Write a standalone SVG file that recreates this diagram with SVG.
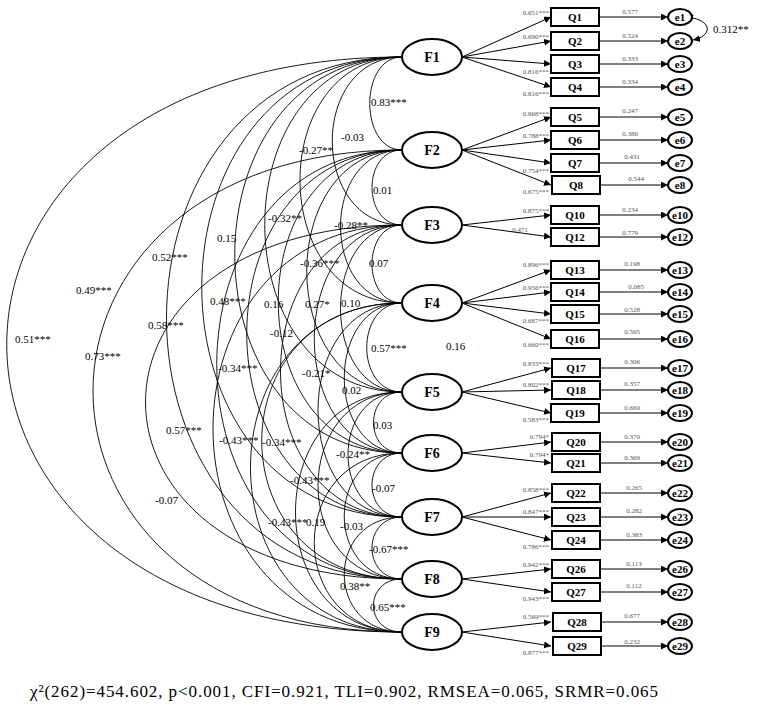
<svg xmlns="http://www.w3.org/2000/svg" width="760" height="711" viewBox="0 0 760 711">
<style>
text{font-family:"Liberation Serif","Times New Roman",serif}
.f{fill:#fff;stroke:#000;stroke-width:2}
.ft{font-size:14px;font-weight:bold;text-anchor:middle}
.q{fill:#fff;stroke:#000;stroke-width:2}
.qt{font-size:11px;font-weight:bold;text-anchor:middle}
.e{fill:#fff;stroke:#000;stroke-width:2}
.et{font-size:11px;font-weight:bold;text-anchor:middle}
.ln{stroke:#000;stroke-width:1;fill:none}
.cv{stroke:#000;stroke-width:0.9;fill:none}
.ll{font-size:7px;fill:#555;text-anchor:end}
.el{font-size:7px;fill:#555;text-anchor:middle}
.cl{font-size:11px;fill:#000}
.st{font-size:17px}
</style>
<defs>
<marker id="a" viewBox="0 0 10 10" refX="10" refY="5" markerWidth="7" markerHeight="7" markerUnits="userSpaceOnUse" orient="auto"><path d="M0,0 L10,5 L0,10 z"/></marker>
<marker id="as" viewBox="0 0 10 10" refX="0" refY="5" markerWidth="7" markerHeight="7" markerUnits="userSpaceOnUse" orient="auto-start-reverse"><path d="M0,0 L10,5 L0,10 z"/></marker>
</defs>
<rect width="760" height="711" fill="#fff"/>
<g id="connectors">
<path class="cv" d="M402,57 C359,57 359,150 402,150"/>
<path class="cv" d="M402,57 C309,57 309,225 402,225"/>
<path class="cv" d="M402,57 C266,57 266,303 402,303"/>
<path class="cv" d="M402,57 C219,57 219,392 402,392"/>
<path class="cv" d="M402,57 C179,57 179,453 402,453"/>
<path class="cv" d="M402,57 C135,57 135,517 402,517"/>
<path class="cv" d="M402,57 C88,57 88,579 402,579"/>
<path class="cv" d="M402,57 C-125,57 -125,632 402,632"/>
<path class="cv" d="M402,150 C362,150 362,225 402,225"/>
<path class="cv" d="M402,150 C320,150 320,303 402,303"/>
<path class="cv" d="M402,150 C275,150 275,392 402,392"/>
<path class="cv" d="M402,150 C237,150 237,453 402,453"/>
<path class="cv" d="M402,150 C195,150 195,517 402,517"/>
<path class="cv" d="M402,150 C155,150 155,579 402,579"/>
<path class="cv" d="M402,150 C-10,150 -10,632 402,632"/>
<path class="cv" d="M402,225 C362,225 362,303 402,303"/>
<path class="cv" d="M402,225 C320,225 320,392 402,392"/>
<path class="cv" d="M402,225 C285,225 285,453 402,453"/>
<path class="cv" d="M402,225 C240,225 240,517 402,517"/>
<path class="cv" d="M402,225 C60,225 60,579 402,579"/>
<path class="cv" d="M402,225 C150,225 150,632 402,632"/>
<path class="cv" d="M402,303 C355,303 355,392 402,392"/>
<path class="cv" d="M402,303 C325,303 325,453 402,453"/>
<path class="cv" d="M402,303 C290,303 290,517 402,517"/>
<path class="cv" d="M402,303 C215,303 215,579 402,579"/>
<path class="cv" d="M402,303 C200,303 200,632 402,632"/>
<path class="cv" d="M402,392 C364,392 364,453 402,453"/>
<path class="cv" d="M402,392 C330,392 330,517 402,517"/>
<path class="cv" d="M402,392 C290,392 290,579 402,579"/>
<path class="cv" d="M402,392 C260,392 260,632 402,632"/>
<path class="cv" d="M402,453 C362,453 362,517 402,517"/>
<path class="cv" d="M402,453 C325,453 325,579 402,579"/>
<path class="cv" d="M402,453 C285,453 285,632 402,632"/>
<path class="cv" d="M402,517 C362,517 362,579 402,579"/>
<path class="cv" d="M402,517 C325,517 325,632 402,632"/>
<path class="cv" d="M402,579 C364,579 364,632 402,632"/>
<g marker-end="url(#a)">
<path class="ln" d="M462,57 L551,17"/><path class="ln" d="M462,57 L551,41"/><path class="ln" d="M462,57 L551,64"/><path class="ln" d="M462,57 L551,87"/>
<path class="ln" d="M462,150 L551,117"/><path class="ln" d="M462,150 L551,140"/><path class="ln" d="M462,150 L551,163"/><path class="ln" d="M462,150 L551,185"/>
<path class="ln" d="M462,225 L551,215"/><path class="ln" d="M462,225 L551,237"/>
<path class="ln" d="M462,303 L551,270"/><path class="ln" d="M462,303 L551,292"/><path class="ln" d="M462,303 L551,314"/><path class="ln" d="M462,303 L551,339"/>
<path class="ln" d="M462,392 L551,368"/><path class="ln" d="M462,392 L551,390"/><path class="ln" d="M462,392 L551,413"/>
<path class="ln" d="M462,453 L551,442"/><path class="ln" d="M462,453 L551,463"/>
<path class="ln" d="M462,517 L551,493"/><path class="ln" d="M462,517 L551,517"/><path class="ln" d="M462,517 L551,540"/>
<path class="ln" d="M462,579 L551,569"/><path class="ln" d="M462,579 L551,592"/>
<path class="ln" d="M462,632 L551,622"/><path class="ln" d="M462,632 L551,646"/>
<path class="ln" d="M599,17 L668,17"/><path class="ln" d="M599,41 L668,41"/><path class="ln" d="M599,64 L668,64"/><path class="ln" d="M599,87 L668,87"/>
<path class="ln" d="M599,117 L668,117"/><path class="ln" d="M599,140 L668,140"/><path class="ln" d="M599,163 L668,163"/><path class="ln" d="M599,185 L668,185"/>
<path class="ln" d="M599,215 L668,215"/><path class="ln" d="M599,237 L668,237"/>
<path class="ln" d="M599,270 L668,270"/><path class="ln" d="M599,292 L668,292"/><path class="ln" d="M599,314 L668,314"/><path class="ln" d="M599,339 L668,339"/>
<path class="ln" d="M599,368 L668,368"/><path class="ln" d="M599,390 L668,390"/><path class="ln" d="M599,413 L668,413"/>
<path class="ln" d="M599,442 L668,442"/><path class="ln" d="M599,463 L668,463"/>
<path class="ln" d="M599,493 L668,493"/><path class="ln" d="M599,517 L668,517"/><path class="ln" d="M599,540 L668,540"/>
<path class="ln" d="M599,569 L668,569"/><path class="ln" d="M599,592 L668,592"/>
<path class="ln" d="M599,622 L668,622"/><path class="ln" d="M599,646 L668,646"/>
</g>
<path class="ln" d="M693,18 C712,22 712,36 693,40" marker-start="url(#as)" marker-end="url(#a)"/>
</g>
<g id="factors">
<g id="F1"><ellipse class="f" cx="432" cy="57" rx="30" ry="18"/><text class="ft" x="432" y="62">F1</text></g>
<g id="F2"><ellipse class="f" cx="432" cy="150" rx="30" ry="18"/><text class="ft" x="432" y="155">F2</text></g>
<g id="F3"><ellipse class="f" cx="432" cy="225" rx="30" ry="18"/><text class="ft" x="432" y="230">F3</text></g>
<g id="F4"><ellipse class="f" cx="432" cy="303" rx="30" ry="18"/><text class="ft" x="432" y="308">F4</text></g>
<g id="F5"><ellipse class="f" cx="432" cy="392" rx="30" ry="18"/><text class="ft" x="432" y="397">F5</text></g>
<g id="F6"><ellipse class="f" cx="432" cy="453" rx="30" ry="18"/><text class="ft" x="432" y="458">F6</text></g>
<g id="F7"><ellipse class="f" cx="432" cy="517" rx="30" ry="18"/><text class="ft" x="432" y="522">F7</text></g>
<g id="F8"><ellipse class="f" cx="432" cy="579" rx="30" ry="18"/><text class="ft" x="432" y="584">F8</text></g>
<g id="F9"><ellipse class="f" cx="432" cy="632" rx="30" ry="18"/><text class="ft" x="432" y="637">F9</text></g>
</g>
<g id="items">
<g id="Q1"><rect class="q" x="551" y="8" width="48" height="18"/><text class="qt" x="575" y="21">Q1</text></g>
<g id="Q2"><rect class="q" x="551" y="32" width="48" height="18"/><text class="qt" x="575" y="45">Q2</text></g>
<g id="Q3"><rect class="q" x="551" y="55" width="48" height="18"/><text class="qt" x="575" y="68">Q3</text></g>
<g id="Q4"><rect class="q" x="551" y="78" width="48" height="18"/><text class="qt" x="575" y="91">Q4</text></g>
<g id="Q5"><rect class="q" x="551" y="108" width="48" height="18"/><text class="qt" x="575" y="121">Q5</text></g>
<g id="Q6"><rect class="q" x="551" y="131" width="48" height="18"/><text class="qt" x="575" y="144">Q6</text></g>
<g id="Q7"><rect class="q" x="551" y="154" width="48" height="18"/><text class="qt" x="575" y="167">Q7</text></g>
<g id="Q8"><rect class="q" x="552" y="176" width="48" height="18"/><text class="qt" x="576" y="189">Q8</text></g>
<g id="Q10"><rect class="q" x="551" y="206" width="48" height="18"/><text class="qt" x="575" y="219">Q10</text></g>
<g id="Q12"><rect class="q" x="551" y="228" width="48" height="18"/><text class="qt" x="575" y="241">Q12</text></g>
<g id="Q13"><rect class="q" x="551" y="261" width="48" height="18"/><text class="qt" x="575" y="274">Q13</text></g>
<g id="Q14"><rect class="q" x="551" y="283" width="48" height="18"/><text class="qt" x="575" y="296">Q14</text></g>
<g id="Q15"><rect class="q" x="551" y="305" width="48" height="18"/><text class="qt" x="575" y="318">Q15</text></g>
<g id="Q16"><rect class="q" x="551" y="330" width="48" height="18"/><text class="qt" x="575" y="343">Q16</text></g>
<g id="Q17"><rect class="q" x="552" y="359" width="48" height="18"/><text class="qt" x="576" y="372">Q17</text></g>
<g id="Q18"><rect class="q" x="552" y="381" width="48" height="18"/><text class="qt" x="576" y="394">Q18</text></g>
<g id="Q19"><rect class="q" x="551" y="404" width="48" height="18"/><text class="qt" x="575" y="417">Q19</text></g>
<g id="Q20"><rect class="q" x="552" y="433" width="48" height="18"/><text class="qt" x="576" y="446">Q20</text></g>
<g id="Q21"><rect class="q" x="552" y="454" width="48" height="18"/><text class="qt" x="576" y="467">Q21</text></g>
<g id="Q22"><rect class="q" x="552" y="484" width="48" height="18"/><text class="qt" x="576" y="497">Q22</text></g>
<g id="Q23"><rect class="q" x="552" y="508" width="48" height="18"/><text class="qt" x="576" y="521">Q23</text></g>
<g id="Q24"><rect class="q" x="552" y="531" width="48" height="18"/><text class="qt" x="576" y="544">Q24</text></g>
<g id="Q26"><rect class="q" x="552" y="560" width="48" height="18"/><text class="qt" x="576" y="573">Q26</text></g>
<g id="Q27"><rect class="q" x="552" y="583" width="48" height="18"/><text class="qt" x="576" y="596">Q27</text></g>
<g id="Q28"><rect class="q" x="553" y="613" width="48" height="18"/><text class="qt" x="577" y="626">Q28</text></g>
<g id="Q29"><rect class="q" x="553" y="637" width="48" height="18"/><text class="qt" x="577" y="650">Q29</text></g>
</g>
<g id="errors">
<g id="e1"><ellipse class="e" cx="680" cy="17" rx="12" ry="8"/><text class="et" x="680" y="21">e1</text></g>
<g id="e2"><ellipse class="e" cx="680" cy="41" rx="12" ry="8"/><text class="et" x="680" y="45">e2</text></g>
<g id="e3"><ellipse class="e" cx="680" cy="64" rx="12" ry="8"/><text class="et" x="680" y="68">e3</text></g>
<g id="e4"><ellipse class="e" cx="680" cy="87" rx="12" ry="8"/><text class="et" x="680" y="91">e4</text></g>
<g id="e5"><ellipse class="e" cx="680" cy="117" rx="12" ry="8"/><text class="et" x="680" y="121">e5</text></g>
<g id="e6"><ellipse class="e" cx="680" cy="140" rx="12" ry="8"/><text class="et" x="680" y="144">e6</text></g>
<g id="e7"><ellipse class="e" cx="680" cy="163" rx="12" ry="8"/><text class="et" x="680" y="167">e7</text></g>
<g id="e8"><ellipse class="e" cx="680" cy="185" rx="12" ry="8"/><text class="et" x="680" y="189">e8</text></g>
<g id="e10"><ellipse class="e" cx="680" cy="215" rx="12" ry="8"/><text class="et" x="680" y="219">e10</text></g>
<g id="e12"><ellipse class="e" cx="680" cy="237" rx="12" ry="8"/><text class="et" x="680" y="241">e12</text></g>
<g id="e13"><ellipse class="e" cx="680" cy="270" rx="12" ry="8"/><text class="et" x="680" y="274">e13</text></g>
<g id="e14"><ellipse class="e" cx="680" cy="292" rx="12" ry="8"/><text class="et" x="680" y="296">e14</text></g>
<g id="e15"><ellipse class="e" cx="680" cy="314" rx="12" ry="8"/><text class="et" x="680" y="318">e15</text></g>
<g id="e16"><ellipse class="e" cx="680" cy="339" rx="12" ry="8"/><text class="et" x="680" y="343">e16</text></g>
<g id="e17"><ellipse class="e" cx="680" cy="368" rx="12" ry="8"/><text class="et" x="680" y="372">e17</text></g>
<g id="e18"><ellipse class="e" cx="680" cy="390" rx="12" ry="8"/><text class="et" x="680" y="394">e18</text></g>
<g id="e19"><ellipse class="e" cx="680" cy="413" rx="12" ry="8"/><text class="et" x="680" y="417">e19</text></g>
<g id="e20"><ellipse class="e" cx="680" cy="442" rx="12" ry="8"/><text class="et" x="680" y="446">e20</text></g>
<g id="e21"><ellipse class="e" cx="680" cy="463" rx="12" ry="8"/><text class="et" x="680" y="467">e21</text></g>
<g id="e22"><ellipse class="e" cx="680" cy="493" rx="12" ry="8"/><text class="et" x="680" y="497">e22</text></g>
<g id="e23"><ellipse class="e" cx="680" cy="517" rx="12" ry="8"/><text class="et" x="680" y="521">e23</text></g>
<g id="e24"><ellipse class="e" cx="680" cy="540" rx="12" ry="8"/><text class="et" x="680" y="544">e24</text></g>
<g id="e26"><ellipse class="e" cx="680" cy="569" rx="12" ry="8"/><text class="et" x="680" y="573">e26</text></g>
<g id="e27"><ellipse class="e" cx="680" cy="592" rx="12" ry="8"/><text class="et" x="680" y="596">e27</text></g>
<g id="e28"><ellipse class="e" cx="680" cy="622" rx="12" ry="8"/><text class="et" x="680" y="626">e28</text></g>
<g id="e29"><ellipse class="e" cx="680" cy="646" rx="12" ry="8"/><text class="et" x="680" y="650">e29</text></g>
</g>
<g id="loading-labels">
<text class="ll" x="549" y="15">0.651***</text><text class="ll" x="549" y="39">0.690***</text><text class="ll" x="549" y="74">0.816***</text><text class="ll" x="549" y="96">0.816***</text>
<text class="ll" x="549" y="116">0.868***</text><text class="ll" x="549" y="138">0.788***</text><text class="ll" x="549" y="173">0.754***</text><text class="ll" x="549" y="194">0.675***</text>
<text class="ll" x="549" y="213">0.875***</text><text class="ll" x="528" y="232">0.471</text>
<text class="ll" x="549" y="267">0.896***</text><text class="ll" x="549" y="290">0.956***</text><text class="ll" x="549" y="323">0.687***</text><text class="ll" x="549" y="347">0.660***</text>
<text class="ll" x="549" y="366">0.833***</text><text class="ll" x="549" y="387">0.802***</text><text class="ll" x="549" y="422">0.583***</text>
<text class="ll" x="549" y="439">0.794*</text><text class="ll" x="549" y="457">0.794*</text>
<text class="ll" x="549" y="492">0.858***</text><text class="ll" x="549" y="514">0.847***</text><text class="ll" x="549" y="549">0.786***</text>
<text class="ll" x="549" y="567">0.942***</text><text class="ll" x="549" y="601">0.943***</text>
<text class="ll" x="549" y="619">0.569***</text><text class="ll" x="549" y="655">0.877***</text>
</g>
<g id="error-labels">
<text class="el" x="630" y="14">0.577</text><text class="el" x="630" y="38">0.524</text><text class="el" x="630" y="61">0.333</text><text class="el" x="630" y="84">0.334</text>
<text class="el" x="630" y="113">0.247</text><text class="el" x="630" y="136">0.380</text><text class="el" x="632" y="159">0.431</text><text class="el" x="636" y="181">0.544</text>
<text class="el" x="630" y="212">0.234</text><text class="el" x="630" y="235">0.779</text>
<text class="el" x="632" y="266">0.198</text><text class="el" x="636" y="289">0.085</text><text class="el" x="632" y="312">0.528</text><text class="el" x="632" y="334">0.565</text>
<text class="el" x="632" y="364">0.306</text><text class="el" x="632" y="386">0.357</text><text class="el" x="632" y="410">0.660</text>
<text class="el" x="632" y="439">0.370</text><text class="el" x="632" y="460">0.369</text>
<text class="el" x="634" y="490">0.265</text><text class="el" x="634" y="513">0.282</text><text class="el" x="634" y="537">0.383</text>
<text class="el" x="634" y="566">0.113</text><text class="el" x="634" y="588">0.112</text>
<text class="el" x="632" y="618">0.677</text><text class="el" x="632" y="644">0.232</text>
<text class="cl" x="713" y="33" font-size="10">0.312**</text>
</g>
<g id="correlation-labels">
<text class="cl" x="371" y="106">0.83***</text>
<text class="cl" x="341" y="141">-0.03</text>
<text class="cl" x="299" y="154">-0.27**</text>
<text class="cl" x="373" y="194">0.01</text>
<text class="cl" x="334" y="229">-0.28**</text>
<text class="cl" x="268" y="222">-0.32**</text>
<text class="cl" x="300" y="267">-0.36***</text>
<text class="cl" x="369" y="267">0.07</text>
<text class="cl" x="217" y="242">0.15</text>
<text class="cl" x="152" y="261">0.52***</text>
<text class="cl" x="76" y="294">0.49***</text>
<text class="cl" x="15" y="343">0.51***</text>
<text class="cl" x="85" y="360">0.73***</text>
<text class="cl" x="148" y="329">0.58***</text>
<text class="cl" x="210" y="305">0.48***</text>
<text class="cl" x="264" y="308">0.16</text>
<text class="cl" x="305" y="308">0.27*</text>
<text class="cl" x="341" y="307">0.10</text>
<text class="cl" x="371" y="352">0.57***</text>
<text class="cl" x="446" y="350">0.16</text>
<text class="cl" x="270" y="337">-0.12</text>
<text class="cl" x="218" y="372">-0.34***</text>
<text class="cl" x="302" y="377">-0.21*</text>
<text class="cl" x="342" y="394">0.02</text>
<text class="cl" x="373" y="429">0.03</text>
<text class="cl" x="336" y="458">-0.24**</text>
<text class="cl" x="166" y="434">0.57***</text>
<text class="cl" x="219" y="444">-0.43***</text>
<text class="cl" x="262" y="446">-0.34***</text>
<text class="cl" x="155" y="504">-0.07</text>
<text class="cl" x="290" y="484">-0.43***</text>
<text class="cl" x="372" y="492">-0.07</text>
<text class="cl" x="268" y="526">-0.43***</text>
<text class="cl" x="306" y="526">0.19</text>
<text class="cl" x="340" y="530">-0.03</text>
<text class="cl" x="369" y="553">-0.67***</text>
<text class="cl" x="340" y="590">0.38**</text>
<text class="cl" x="370" y="611">0.65***</text>
</g>
<text class="st" x="30" y="697" textLength="628" lengthAdjust="spacing">χ²(262)=454.602, p&lt;0.001, CFI=0.921, TLI=0.902, RMSEA=0.065, SRMR=0.065</text>
</svg>
